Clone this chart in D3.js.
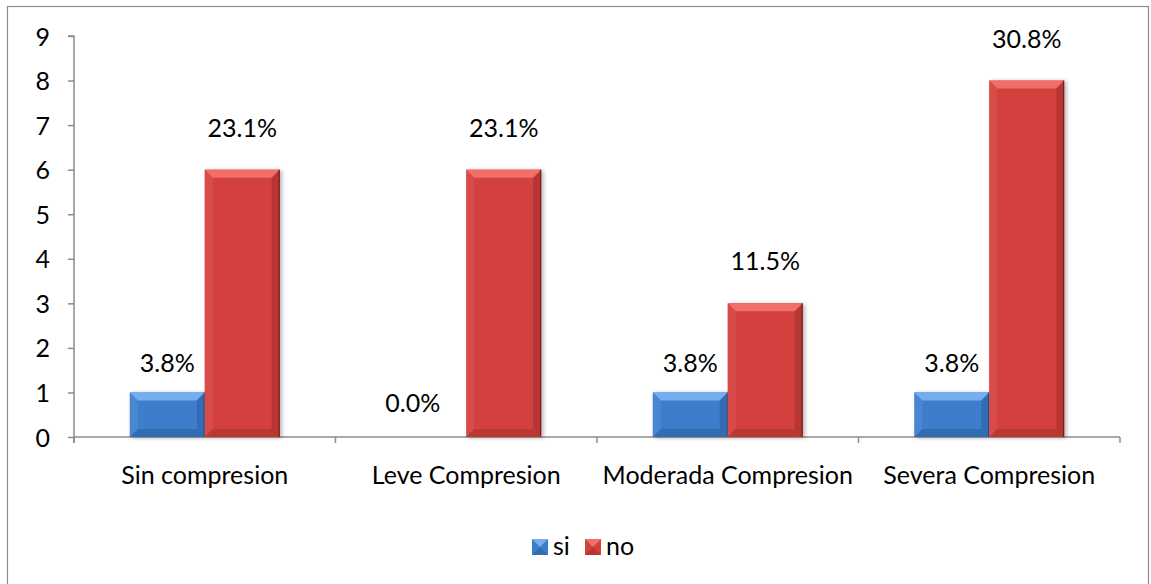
<!DOCTYPE html>
<html>
<head>
<meta charset="utf-8">
<script src="https://cdn.jsdelivr.net/npm/d3@7/dist/d3.min.js"></script>
<style>
  html, body { margin: 0; padding: 0; background: #ffffff; }
  svg { display: block; }
  text { font-family: Lato, "Open Sans", sans-serif; fill: #000; }
</style>
</head>
<body>
<svg id="chart" width="1151" height="584"></svg>
<script>
// Chart data
const categories = ["Sin compresion", "Leve Compresion", "Moderada Compresion", "Severa Compresion"];
const seriesNames = ["si", "no"];
const siValues = [1, 0, 1, 1];
const noValues = [6, 6, 3, 8];
const siLabels = ["3.8%", "0.0%", "3.8%", "3.8%"];
const noLabels = ["23.1%", "23.1%", "11.5%", "30.8%"];
const yTicks = [0, 1, 2, 3, 4, 5, 6, 7, 8, 9];

const palette = {
  si: { main: "#3e7dcb", top: "#74aeee", left: "#5592dc", right: "#24568f", bottom: "#2c62a4", edge: "#1f4b80" },
  no: { main: "#d3413d", top: "#f26e6a", left: "#dc5653", right: "#8e2422", bottom: "#a9302d", edge: "#6e1a18" }
};

const FONT = 25;
const svg = d3.select("#chart");
const margin = { left: 74, right: 1120, top: 36, bottom: 437 };

// Outer frame
svg.append("rect")
  .attr("x", 7.5).attr("y", 6.5)
  .attr("width", 1141).attr("height", 590)
  .attr("fill", "none").attr("stroke", "#8c8c8c").attr("stroke-width", 1.2);

const x0 = d3.scaleBand().domain(categories).range([margin.left, margin.right]).paddingInner(0).paddingOuter(0);
const x1 = d3.scaleBand().domain(seriesNames).range([0, x0.bandwidth()]).paddingInner(0).paddingOuter(0.745);
const y = d3.scaleLinear().domain([0, 9]).range([margin.bottom, margin.top]);

// Drop shadow for bars
const defs = svg.append("defs");
const f = defs.append("filter").attr("id", "shadow").attr("x", "-20%").attr("y", "-20%").attr("width", "140%").attr("height", "140%");
f.append("feGaussianBlur").attr("in", "SourceAlpha").attr("stdDeviation", 2.2);
f.append("feOffset").attr("dx", 2).attr("dy", 1).attr("result", "ob");
f.append("feComponentTransfer").append("feFuncA").attr("type", "linear").attr("slope", 0.3);
const fm = f.append("feMerge");
fm.append("feMergeNode");
fm.append("feMergeNode").attr("in", "SourceGraphic");

// Y axis
const yAxis = d3.axisLeft(y).tickValues(yTicks).tickSize(6).tickPadding(18).tickFormat(d3.format("d"));
const gy = svg.append("g").attr("transform", `translate(${margin.left},0)`).call(yAxis);
gy.select(".domain").attr("stroke", "#8c8c8c").attr("stroke-width", 1.5).attr("d", `M-6,${y(9)}H0V${y(0) + 6}`);
gy.selectAll(".tick line").attr("stroke", "#8c8c8c").attr("stroke-width", 1.5);
gy.selectAll(".tick text").style("font-size", FONT + "px").style("font-family", "Lato, sans-serif").attr("fill", "#000").attr("dy", "0.36em");

// X axis
const xAxis = d3.axisBottom(x0).tickSize(0).tickPadding(29);
const gx = svg.append("g").attr("transform", `translate(0,${margin.bottom})`).call(xAxis);
gx.select(".domain").attr("stroke", "#8c8c8c").attr("stroke-width", 1.5).attr("d", `M${margin.left},0H${margin.right}`);
gx.selectAll(".tick text").style("font-size", FONT + "px").style("font-family", "Lato, sans-serif").attr("fill", "#000");
// Category boundary ticks
const bounds = categories.map(c => x0(c)).concat([margin.right]);
gx.selectAll(".bound").data(bounds).enter().append("line")
  .attr("x1", d => d).attr("x2", d => d).attr("y1", 0).attr("y2", 6)
  .attr("stroke", "#8c8c8c").attr("stroke-width", 1.5);

// Bevelled bar drawing
function bevelBar(g, bx, by, bw, bh, c) {
  if (bh <= 0) return;
  const b = Math.min(8, bh / 2, bw / 2);
  const grp = g.append("g").attr("filter", "url(#shadow)");
  grp.append("rect").attr("x", bx).attr("y", by).attr("width", bw).attr("height", bh).attr("fill", c.main);
  const pts = a => a.map(p => p.join(",")).join(" ");
  grp.append("polygon").attr("points", pts([[bx, by], [bx + bw, by], [bx + bw - b, by + b], [bx + b, by + b]])).attr("fill", c.top);
  grp.append("polygon").attr("points", pts([[bx, by], [bx + b, by + b], [bx + b, by + bh - b], [bx, by + bh]])).attr("fill", c.left).attr("opacity", 0.5);
  grp.append("polygon").attr("points", pts([[bx + bw, by], [bx + bw, by + bh], [bx + bw - b, by + bh - b], [bx + bw - b, by + b]])).attr("fill", c.right).attr("opacity", 0.4);
  grp.append("polygon").attr("points", pts([[bx, by + bh], [bx + b, by + bh - b], [bx + bw - b, by + bh - b], [bx + bw, by + bh]])).attr("fill", c.bottom).attr("opacity", 0.6);
  grp.append("line").attr("x1", bx + bw - 0.5).attr("x2", bx + bw - 0.5).attr("y1", by).attr("y2", by + bh).attr("stroke", c.edge).attr("stroke-width", 1);
}

const rows = categories.map((c, i) => ({ cat: c, si: siValues[i], no: noValues[i], siL: siLabels[i], noL: noLabels[i] }));
const barsG = svg.append("g");
rows.forEach(r => {
  seriesNames.forEach(s => {
    const bx = x0(r.cat) + x1(s);
    const by = y(r[s]);
    bevelBar(barsG, bx, by, x1.bandwidth(), y(0) - by, palette[s]);
  });
});

// Value labels
const labG = svg.append("g").style("font-size", FONT + "px");
rows.forEach(r => {
  [["si", r.siL, 20], ["no", r.noL, 33]].forEach(([s, lab, off]) => {
    const cx = x0(r.cat) + x1(s) + x1.bandwidth() / 2 - (r[s] === 0 ? 16 : 0);
    labG.append("text").attr("x", cx).attr("y", y(r[s]) - (r[s] === 0 ? 25 : off))
      .attr("text-anchor", "middle").text(lab);
  });
});

// Legend
const legend = svg.append("g").attr("transform", "translate(532,539)");
const legItems = [{ k: "si", x: 0 }, { k: "no", x: 53 }];
legItems.forEach(it => {
  const g = legend.append("g").attr("transform", `translate(${it.x},0)`);
  const c = palette[it.k];
  g.append("rect").attr("width", 16).attr("height", 16).attr("fill", c.main);
  g.append("polygon").attr("points", "0,0 16,0 8,8").attr("fill", c.top);
  g.append("polygon").attr("points", "0,16 16,16 8,8").attr("fill", c.bottom).attr("opacity", 0.6);
  g.append("text").attr("x", 21).attr("y", 16).style("font-size", FONT + "px").text(it.k);
});
</script>
</body>
</html>
